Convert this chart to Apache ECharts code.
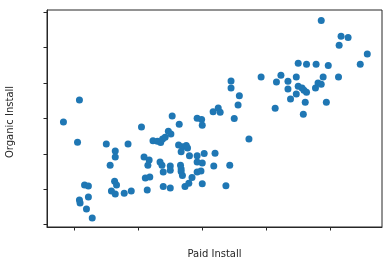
<!DOCTYPE html>
<html>
<head>
<meta charset="utf-8">
<script src="https://cdn.jsdelivr.net/npm/echarts@6/dist/echarts.min.js"></script>
<style>html,body{margin:0;padding:0;background:#fff;}#chart{width:392px;height:266px;}</style>
</head>
<body>
<div id="chart"></div>
<script>
var paidInstall = [-0.17,0.08,0.05,0.50,0.84,0.64,0.64,0.56,0.16,0.22,0.63,0.66,0.58,0.64,0.78,0.89,0.08,0.09,0.22,0.19,0.28,
1.05,1.53,1.64,1.92,1.99,2.00,2.17,2.25,2.28,1.23,1.30,1.35,1.38,1.42,1.47,1.51,1.63,1.69,1.75,1.77,1.67,1.80,1.92,2.03,2.20,
1.09,1.17,1.15,1.34,1.37,1.50,1.66,1.67,1.67,1.69,1.92,2.00,2.18,1.39,1.50,1.92,1.98,1.84,1.11,1.18,1.14,1.39,1.50,1.73,1.79,2.00,
2.37,2.43,2.45,2.45,2.58,2.56,2.50,2.73,2.92,3.16,3.23,3.34,3.47,3.50,3.63,3.78,3.97,3.34,3.50,3.56,3.59,3.63,3.47,3.38,
3.77,3.81,3.86,3.89,4.13,3.61,3.94,3.14,3.58,3.86,4.17,4.28,4.14,4.58,4.47];
var organicInstall = [2.90,3.52,2.33,2.28,2.28,2.08,1.91,1.68,1.12,1.09,1.23,1.12,0.95,0.87,0.89,0.95,0.70,0.61,0.78,0.44,0.19,
2.76,3.07,2.84,3.01,2.97,2.81,3.19,3.30,3.18,2.37,2.36,2.32,2.42,2.47,2.64,2.56,2.25,2.20,2.24,2.17,2.06,1.95,1.95,2.01,2.02,
1.91,1.83,1.68,1.77,1.68,1.66,1.68,1.57,1.50,1.39,1.77,1.74,1.66,1.49,1.54,1.49,1.52,1.33,1.32,1.35,0.98,1.08,1.04,1.08,1.17,1.16,
1.10,1.68,4.06,3.86,3.64,3.38,3.00,2.42,4.17,4.03,4.22,4.05,4.17,4.56,4.53,4.53,4.50,3.83,3.91,3.86,3.80,3.74,3.69,3.55,
3.86,4.00,3.97,4.17,4.17,3.46,3.46,3.29,3.12,5.77,5.32,5.29,5.07,4.82,4.53];
var xTicks = [0,1,2,3,4];
var yTicks = [0,1,2,3,4,5,6];
var xLabel = 'Paid Install';
var yLabel = 'Organic Install';

var points = paidInstall.map(function(x,i){return [x, organicInstall[i]];});
var chart = echarts.init(document.getElementById('chart'), null, {renderer:'canvas'});
var axisCommon = {
  type:'value',
  axisLine:{show:true, onZero:false, lineStyle:{color:'#262626', width:1}},
  axisLabel:{show:false},
  splitLine:{show:false},
  nameLocation:'middle'
};
chart.setOption({
  animation:false,
  backgroundColor:'#ffffff',
  grid:{left:47, right:10, top:10, bottom:39, show:true, borderColor:'#262626', borderWidth:1, containLabel:false, outerBoundsMode:'none'},
  xAxis:Object.assign({}, axisCommon, {
    min:-0.427, max:4.81, name:xLabel, nameGap:22,
    nameTextStyle:{fontFamily:'DejaVu Sans', fontSize:10, color:'#262626'},
    axisTick:{show:true, inside:false, length:3.5, lineStyle:{color:'#262626'}, customValues:xTicks}
  }),
  yAxis:Object.assign({}, axisCommon, {
    min:-0.065, max:6.065, name:yLabel, nameGap:32, nameRotate:90,
    nameTextStyle:{fontFamily:'DejaVu Sans', fontSize:10, color:'#262626', padding:[0,7,0,0]},
    axisTick:{show:true, inside:false, length:3.5, lineStyle:{color:'#262626'}, customValues:yTicks}
  }),
  series:[{
    type:'scatter',
    data:points,
    symbolSize:7,
    itemStyle:{color:'#1f77b4', opacity:1}
  }]
});
</script>
</body>
</html>
